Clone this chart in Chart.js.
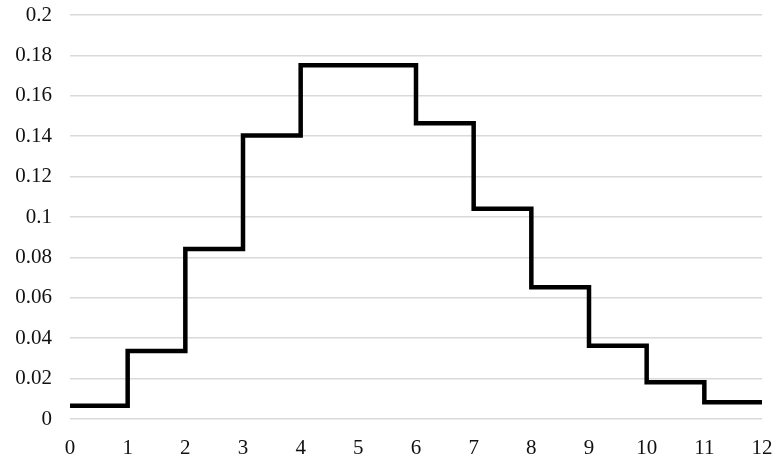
<!DOCTYPE html>
<html>
<head>
<meta charset="utf-8">
<script src="https://cdn.jsdelivr.net/npm/chart.js@4"></script>
<style>
  html, body { margin: 0; padding: 0; background: #fff; }
  #wrap { width: 778px; height: 460px; }
</style>
</head>
<body>
<div id="wrap"><canvas id="chart"></canvas></div>
<script>
// step edges along x and the value held on each interval [edge, edge+1)
const edges = [0, 1, 2, 3, 4, 5, 6, 7, 8, 9, 10, 11, 12];
const stepValues = [0.0066, 0.0337, 0.0842, 0.1404, 0.1751, 0.1751, 0.1464, 0.1041, 0.0652, 0.0363, 0.0182, 0.0083];
const yTicks = [0, 0.02, 0.04, 0.06, 0.08, 0.1, 0.12, 0.14, 0.16, 0.18, 0.2];

const points = edges.map((x, i) => ({
  x: x,
  y: i < stepValues.length ? stepValues[i] : stepValues[stepValues.length - 1]
}));

const ctx = document.getElementById("chart").getContext("2d");

new Chart(ctx, {
  type: "line",
  data: {
    datasets: [
      {
        data: points,
        stepped: true,
        borderColor: "#000",
        borderWidth: 4.5,
        borderCapStyle: "butt",
        borderJoinStyle: "miter",
        pointRadius: 0,
        fill: false
      }
    ]
  },
  options: {
    responsive: true,
    maintainAspectRatio: false,
    animation: false,
    layout: {
      padding: { top: 15, right: 16, bottom: 0, left: 0 }
    },
    plugins: {
      legend: { display: false },
      tooltip: { enabled: false }
    },
    scales: {
      x: {
        type: "linear",
        min: 0,
        max: 12,
        grid: { display: false, drawTicks: false },
        border: { display: false },
        ticks: {
          stepSize: 1,
          padding: 17,
          color: "#111",
          font: { family: "Liberation Serif", size: 21 }
        },
        afterFit: (scale) => {
          scale.height = 41;
          scale.paddingLeft = 0;
          scale.paddingRight = 0;
        }
      },
      y: {
        type: "linear",
        min: 0,
        max: 0.2,
        afterBuildTicks: (scale) => { scale.ticks = yTicks.map(v => ({ value: v })); },
        grid: { color: "#d9d9d9", lineWidth: 1.5, drawTicks: false },
        border: { display: false },
        ticks: {
          padding: 18,
          color: "#111",
          font: { family: "Liberation Serif", size: 21 },
          callback: (v) => String(+v.toFixed(2))
        },
        afterFit: (scale) => {
          scale.width = 70;
          scale.paddingTop = 0;
          scale.paddingBottom = 0;
        }
      }
    }
  }
});
</script>
</body>
</html>
